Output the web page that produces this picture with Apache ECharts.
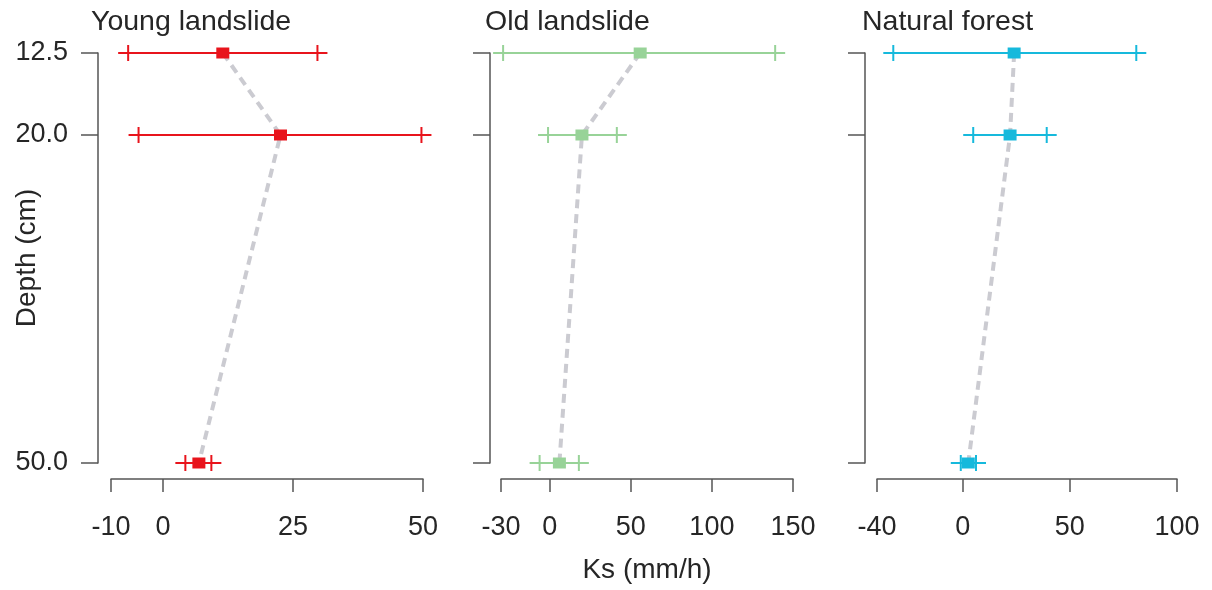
<!DOCTYPE html>
<html>
<head>
<meta charset="utf-8">
<script src="https://cdn.jsdelivr.net/npm/echarts@6/dist/echarts.min.js"></script>
<style>
html,body{margin:0;padding:0;background:#fff;}
#chart{width:1212px;height:590px;}
</style>
</head>
<body>
<div id="chart"></div>
<script>
// ---- data ----
var depths = [12.5, 20, 50];
var depthTicks = [12.5, 20, 50];

var panelTitles = ['Young landslide', 'Old landslide', 'Natural forest'];

var youngMean = [11.5, 22.6, 6.9];
var youngLow  = [-6.7, -4.7, 4.3];
var youngHigh = [29.7, 49.7, 9.3];

var oldMean = [55.8, 19.9, 6.0];
var oldLow  = [-28.7, -1.0, -6.2];
var oldHigh = [139, 41.4, 18.0];

var forestMean = [24.0, 22.1, 2.6];
var forestLow  = [-32.4, 4.9, -0.9];
var forestHigh = [81, 39.2, 6.2];

var youngTicks  = [-10, 0, 25, 50];
var oldTicks    = [-30, 0, 50, 100, 150];
var forestTicks = [-40, 0, 50, 100];

var xTitle = 'Ks (mm/h)';
var yTitle = 'Depth (cm)';

// ---- layout / style ----
var FONT = 'Liberation Sans, Arial, sans-serif';
var TXT = '#262626';
var AX = '#555555';
var colors = ['#e8141c', '#98d398', '#16b9dc'];

var panels = [
  {mean: youngMean, low: youngLow, high: youngHigh, ticks: youngTicks, left: 111, width: 312, yOff: 13, titleLeft: 91},
  {mean: oldMean, low: oldLow, high: oldHigh, ticks: oldTicks, left: 501, width: 292, yOff: 11, titleLeft: 485},
  {mean: forestMean, low: forestLow, high: forestHigh, ticks: forestTicks, left: 877, width: 300, yOff: 12, titleLeft: 862}
];

var grids = [], xAxes = [], yAxes = [], series = [], titles = [];

panels.forEach(function (p, i) {
  grids.push({left: p.left, width: p.width, top: 53, height: 410, containLabel: false, outerBoundsMode: 'none'});
  titles.push({
    text: panelTitles[i], left: p.titleLeft, top: 8, padding: 0,
    textStyle: {fontFamily: FONT, fontSize: 28.5, fontWeight: 'normal', color: TXT}
  });
  var tmin = p.ticks[0], tmax = p.ticks[p.ticks.length - 1];
  xAxes.push({
    type: 'value', gridIndex: i, min: tmin, max: tmax, offset: 16,
    splitLine: {show: false},
    axisLine: {show: true, onZero: false, lineStyle: {color: AX, width: 1.5}},
    axisTick: {show: true, length: 13, customValues: p.ticks, lineStyle: {color: AX, width: 1.5}},
    axisLabel: {customValues: p.ticks, margin: 35, fontFamily: FONT, fontSize: 27, color: TXT},
    name: i === 1 ? xTitle : '',
    nameLocation: 'middle', nameGap: 77, nameMoveOverlap: false,
    nameTextStyle: {fontFamily: FONT, fontSize: 28, color: TXT}
  });
  yAxes.push({
    type: 'value', gridIndex: i, min: 12.5, max: 50, inverse: true, offset: p.yOff,
    splitLine: {show: false},
    axisLine: {show: true, onZero: false, lineStyle: {color: AX, width: 1.5}},
    axisTick: {show: true, length: 17, customValues: depthTicks, lineStyle: {color: AX, width: 1.5}},
    axisLabel: {show: i === 0, customValues: depthTicks, margin: 30, fontFamily: FONT, fontSize: 27, color: TXT,
      formatter: function (v) { return Number(v).toFixed(1); }},
    name: i === 0 ? yTitle : '',
    nameLocation: 'middle', nameGap: 57, nameRotate: 90, nameMoveOverlap: false,
    nameTextStyle: {fontFamily: FONT, fontSize: 28, color: TXT}
  });

  // dashed connecting line
  series.push({
    type: 'line', xAxisIndex: i, yAxisIndex: i, z: 1,
    data: depths.map(function (d, k) { return [p.mean[k], d]; }),
    showSymbol: false, symbol: 'none', silent: true,
    lineStyle: {color: '#cbcbd1', width: 4, type: [9, 6]}
  });

  // error bars with + caps
  var col = colors[i];
  series.push({
    type: 'custom', xAxisIndex: i, yAxisIndex: i, z: 2, clip: false, silent: true,
    data: depths.map(function (d, k) { return [p.low[k], p.high[k], d]; }),
    encode: {x: [0, 1], y: 2},
    renderItem: function (params, api) {
      var a = api.coord([api.value(0), api.value(2)]);
      var b = api.coord([api.value(1), api.value(2)]);
      var st = {stroke: col, lineWidth: 2};
      return {
        type: 'group',
        children: [
          {type: 'line', shape: {x1: a[0] - 10, y1: a[1], x2: b[0] + 10, y2: b[1]}, style: st},
          {type: 'line', shape: {x1: a[0], y1: a[1] - 8, x2: a[0], y2: a[1] + 8}, style: st},
          {type: 'line', shape: {x1: b[0], y1: b[1] - 8, x2: b[0], y2: b[1] + 8}, style: st}
        ]
      };
    }
  });

  // mean markers
  series.push({
    type: 'scatter', xAxisIndex: i, yAxisIndex: i, z: 3, silent: true,
    data: depths.map(function (d, k) { return [p.mean[k], d]; }),
    symbol: 'rect', symbolSize: [13, 11],
    itemStyle: {color: col, opacity: 1}
  });
});

var chart = echarts.init(document.getElementById('chart'), null, {renderer: 'canvas'});
chart.setOption({
  animation: false,
  backgroundColor: '#ffffff',
  title: titles,
  grid: grids,
  xAxis: xAxes,
  yAxis: yAxes,
  series: series
});
</script>
</body>
</html>
